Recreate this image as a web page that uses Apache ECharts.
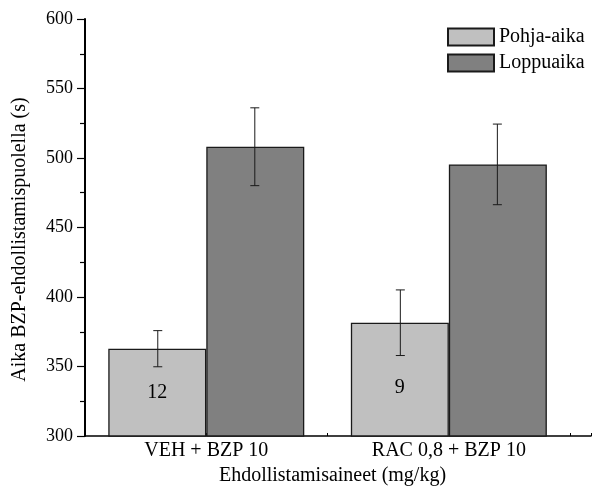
<!DOCTYPE html>
<html>
<head>
<meta charset="utf-8">
<script src="https://cdn.jsdelivr.net/npm/echarts@6/dist/echarts.min.js"></script>
<style>
  html, body { margin: 0; padding: 0; background: #fff; }
  #chart { width: 594px; height: 493px; }
</style>
</head>
<body>
<div id="chart"></div>
<script>
// groups on the x axis (placed at 1, 2)
var groups = ['VEH + BZP 10', 'RAC 0,8 + BZP 10'];
var seriesNames = ['Pohja-aika', 'Loppuaika'];
// mean times (s)
var baseMean = [362.8, 381.5];
var endMean = [508.1, 495.4];
// error (+/-)
var baseErr = [13.0, 23.6];
var endErr = [28.0, 29.0];
// n per group, shown inside the base bars
var nLabels = ['12', '9'];

var FONT = '"Liberation Serif", "DejaVu Serif", serif';
var chart = echarts.init(document.getElementById('chart'));

// bars are laid out side by side around the group position by echarts,
// the error bars need the same offset in axis units (0.2 = half a bar)
function pos(i, s) { return i + 1 + (s === 0 ? -0.2 : 0.2); }

var baseData = baseMean.map(function(v, i) {
    return {
        value: [i + 1, v],
        label: {
            show: true, position: 'inside', formatter: nLabels[i],
            offset: [0, i === 1 ? 8 : 0],
            color: '#000', fontFamily: FONT, fontSize: 20
        }
    };
});
var endData = endMean.map(function(v, i) { return [i + 1, v]; });

var errData = [];
baseMean.forEach(function(v, i) { errData.push([pos(i, 0), v - baseErr[i], v + baseErr[i]]); });
endMean.forEach(function(v, i) { errData.push([pos(i, 1), v - endErr[i], v + endErr[i]]); });

chart.setOption({
    animation: false,
    grid: { left: 85, right: 0, top: 19, bottom: 57 },
    legend: {
        orient: 'vertical', left: 442, top: 22,
        itemWidth: 46, itemHeight: 17, itemGap: 6, icon: 'rect',
        textStyle: { fontFamily: FONT, fontSize: 20, color: '#000' },
        data: seriesNames
    },
    xAxis: {
        type: 'value', min: 0.5, max: 2.586, interval: 0.25,
        name: 'Ehdollistamisaineet (mg/kg)', nameLocation: 'middle', nameGap: 30,
        nameTextStyle: { fontFamily: FONT, fontSize: 20, color: '#000', padding: [0, 11, 0, 0] },
        axisLine: { onZero: false, lineStyle: { color: '#000', width: 1.5 } },
        axisTick: { inside: true, length: 3, lineStyle: { color: '#000' } },
        axisLabel: {
            fontFamily: FONT, fontSize: 20, color: '#000', margin: 5,
            formatter: function(v) {
                var k = Math.round(v * 100) / 100;
                if (k === 1) return groups[0];
                if (k === 2) return groups[1];
                return '';
            }
        },
        splitLine: { show: false }
    },
    yAxis: {
        type: 'value', min: 300, max: 600, interval: 50,
        name: 'Aika BZP-ehdollistamispuolella (s)', nameLocation: 'middle', nameGap: 55,
        nameTextStyle: { fontFamily: FONT, fontSize: 20, color: '#000', padding: [0, 24, 0, 0] },
        axisLine: { show: true, onZero: false, lineStyle: { color: '#000', width: 2 } },
        axisTick: { show: true, inside: false, length: 8, lineStyle: { color: '#000', width: 1.2 } },
        minorTick: { show: true, splitNumber: 2, length: 5, lineStyle: { color: '#000', width: 1.2 } },
        axisLabel: { fontFamily: FONT, fontSize: 18, color: '#000', margin: 12 },
        splitLine: { show: false }
    },
    series: [
        {
            name: seriesNames[0], type: 'bar', barWidth: 98, barGap: '0%',
            itemStyle: { color: '#c0c0c0', borderColor: '#1a1a1a', borderWidth: 1.3 },
            data: baseData
        },
        {
            name: seriesNames[1], type: 'bar', barWidth: 98, barGap: '0%',
            itemStyle: { color: '#808080', borderColor: '#1a1a1a', borderWidth: 1.3 },
            data: endData
        },
        {
            type: 'custom', z: 5,
            renderItem: function(params, api) {
                var top = api.coord([api.value(0), api.value(2)]);
                var bot = api.coord([api.value(0), api.value(1)]);
                var w = 4.5;
                var st = { stroke: '#1a1a1a', lineWidth: 1 };
                return {
                    type: 'group',
                    children: [
                        { type: 'line', shape: { x1: top[0], y1: top[1], x2: bot[0], y2: bot[1] }, style: st },
                        { type: 'line', shape: { x1: top[0] - w, y1: top[1], x2: top[0] + w, y2: top[1] }, style: st },
                        { type: 'line', shape: { x1: bot[0] - w, y1: bot[1], x2: bot[0] + w, y2: bot[1] }, style: st }
                    ]
                };
            },
            data: errData
        }
    ]
});
</script>
</body>
</html>
